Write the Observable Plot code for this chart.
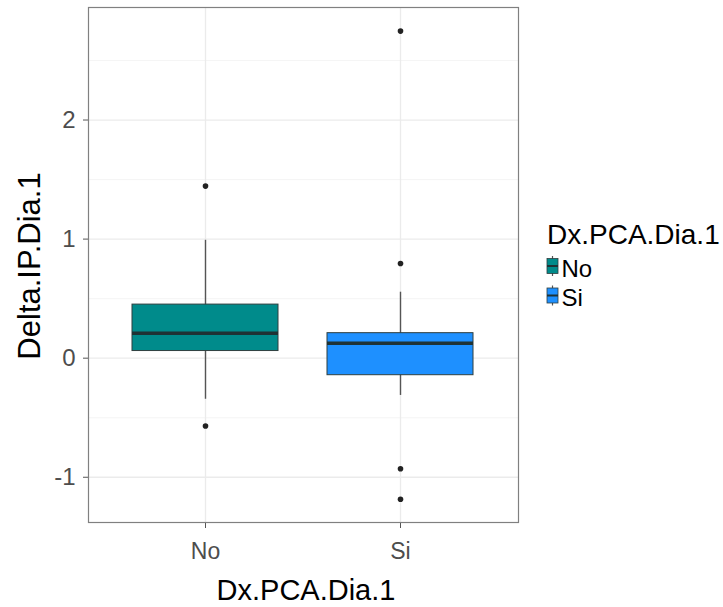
<!DOCTYPE html>
<html>
<head>
<meta charset="utf-8">
<script src="https://cdn.jsdelivr.net/npm/d3@7"></script>
<script src="https://cdn.jsdelivr.net/npm/@observablehq/plot@0.6"></script>
<style>
  html, body { margin: 0; padding: 0; background: #fff; }
  #wrap { position: relative; width: 723px; height: 607px; font-family: "Liberation Sans", Arial, sans-serif; }
  #legend { position: absolute; left: 546px; top: 218px; }
</style>
</head>
<body>
<div id="wrap"></div>
<script>
// ---- data ----
const categories = ["No", "Si"];
const q1 = [0.06, -0.143];
const median = [0.21, 0.126];
const q3 = [0.45, 0.21];
const whiskerLow = [-0.345, -0.313];
const whiskerHigh = [0.99, 0.554];
const outlierGroup = ["No", "No", "Si", "Si", "Si", "Si"];
const outlierValue = [1.445, -0.57, 2.747, 0.795, -0.928, -1.185];
const fills = ["#008b8b", "#1e90ff"];
const yTicks = [-1, 0, 1, 2];
const yTickLabels = ["-1", "0", "1", "2"];
const yMinor = [-0.5, 0.5, 1.5, 2.5];
const xTitle = "Dx.PCA.Dia.1";
const yTitle = "Delta.IP.Dia.1";
const legendTitle = "Dx.PCA.Dia.1";

const boxes = categories.map((c, i) => ({cat: c, q1: q1[i], med: median[i], q3: q3[i], wlo: whiskerLow[i], whi: whiskerHigh[i]}));
const outliers = outlierGroup.map((c, i) => ({cat: c, v: outlierValue[i]}));

const font = "'Liberation Sans', Arial, sans-serif";

const chart = Plot.plot({
  width: 723,
  height: 607,
  marginLeft: 88,
  marginRight: 205,
  marginTop: 7,
  marginBottom: 85,
  style: {fontFamily: font, fontSize: "23px", color: "#4d4d4d", background: "white"},
  x: {type: "band", domain: categories, paddingInner: 0.25, paddingOuter: 0.222, label: null},
  y: {domain: [-1.38, 2.945], label: null},
  color: {domain: categories, range: fills},
  marks: [
    Plot.gridY(yMinor, {stroke: "#f3f3f3", strokeOpacity: 1, strokeWidth: 0.8}),
    Plot.gridY(yTicks, {stroke: "#ebebeb", strokeOpacity: 1, strokeWidth: 1.3}),
    Plot.gridX(categories, {stroke: "#ebebeb", strokeOpacity: 1, strokeWidth: 1.3}),
    Plot.ruleX(boxes, {x: "cat", y1: "wlo", y2: "whi", stroke: "#555", strokeWidth: 1.4}),
    Plot.barY(boxes, {x: "cat", y1: "q1", y2: "q3", fill: "cat", stroke: "#2f3f3f", strokeWidth: 1}),
    Plot.tickY(boxes, {x: "cat", y: "med", stroke: "#1f3234", strokeWidth: 3.5}),
    Plot.dot(outliers, {x: "cat", y: "v", r: 2.8, fill: "#222", stroke: "none"}),
    Plot.axisY(yTicks, {tickSize: 5, tickPadding: 8, stroke: "#555", fontSize: 24, tickFormat: (d) => yTickLabels[yTicks.indexOf(d)], label: null}),
    Plot.axisX({tickSize: 6, tickPadding: 14, stroke: "#555", fontSize: 23, label: null}),
    Plot.frame({stroke: "#808080", strokeWidth: 1.2})
  ]
});

const svg = d3.select(chart);
svg.append("text")
  .attr("x", 306).attr("y", 600)
  .attr("text-anchor", "middle")
  .attr("font-family", font).attr("font-size", 29).attr("fill", "#000")
  .text(xTitle);
svg.append("text")
  .attr("transform", "translate(40,266) rotate(-90)")
  .attr("text-anchor", "middle")
  .attr("font-family", font).attr("font-size", 31).attr("fill", "#000")
  .text(yTitle);

const wrap = document.getElementById("wrap");
wrap.appendChild(chart);

// legend (HTML + small svg keys)
const legend = document.createElement("div");
legend.id = "legend";
wrap.appendChild(legend);
const lsvg = d3.select(legend).append("svg").attr("width", 177).attr("height", 100).style("overflow", "visible");
lsvg.append("text").attr("x", 1).attr("y", 26)
  .attr("font-family", font).attr("font-size", 28).attr("fill", "#000").text(legendTitle);
categories.forEach((c, i) => {
  const y0 = 38 + i * 29.5;
  const g = lsvg.append("g").attr("transform", `translate(0,${y0})`);
  g.append("line").attr("x1", 6.5).attr("x2", 6.5).attr("y1", 0).attr("y2", 20).attr("stroke", "#555").attr("stroke-width", 1.2);
  g.append("rect").attr("x", 1).attr("y", 2.5).attr("width", 11).attr("height", 15).attr("fill", fills[i]).attr("stroke", "#2f3f3f").attr("stroke-width", 0.8);
  g.append("line").attr("x1", 1).attr("x2", 12).attr("y1", 10).attr("y2", 10).attr("stroke", "#1f3234").attr("stroke-width", 2);
  g.append("text").attr("x", 15.5).attr("y", 20.5)
    .attr("font-family", font).attr("font-size", 24).attr("fill", "#000").text(c);
});
</script>
</body>
</html>
